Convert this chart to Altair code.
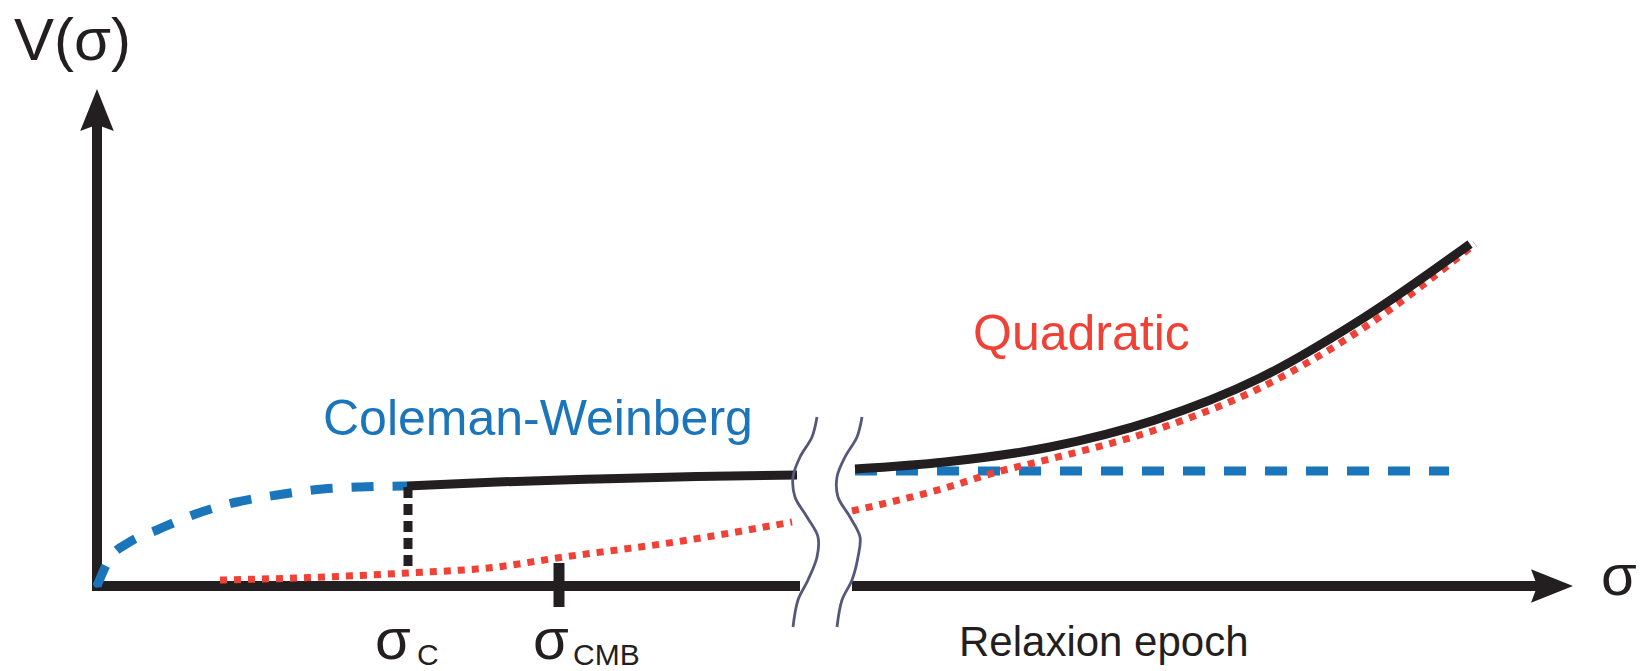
import altair as alt
import pandas as pd

# ---- data (x = sigma position, v = V(sigma)) ----
cw_left_x = [0, 13, 31, 60, 96, 140, 180, 226, 263, 310]
cw_left_v = [0, 28, 43, 56, 71, 84, 91, 97, 99, 100]

black_left_x = [310, 400, 500, 600, 700]
black_left_v = [100, 104, 107, 109.5, 111]

quad_left_x = [123, 200, 311, 400, 460, 585, 695]
quad_left_v = [6, 8, 13, 19, 28, 45, 64]

cw_right_x = [758, 1352]
cw_right_v = [115, 115]

black_right_x = [758, 848, 953, 1058, 1163, 1268, 1373]
black_right_v = [117, 124, 139, 166, 208, 269, 342]

quad_right_x = [755, 848, 900, 953, 1058, 1163, 1268, 1378]
quad_right_v = [75, 98, 114, 127, 156, 198, 259, 342]

sigma_c = 311
sigma_c_top = 99
sigma_c_bottom = 14
sigma_cmb = 462

break1_x = [720, 715, 703, 696, 698, 710, 721, 720, 711, 701, 696]
break2_x = [765, 760, 748, 740, 741, 753, 763, 761, 755, 745, 740]
break_v = [169, 149, 129, 109, 89, 69, 49, 29, 6, -14, -41]

BLUE = "#1b75bb"
RED = "#ef4136"
BLACK = "#231f20"
GREY = "#55587a"
FONT = "Liberation Sans"

xs = alt.Scale(domain=[-89, 1541], nice=False, zero=False)
ys = alt.Scale(domain=[-85, 578], nice=False, zero=False)


def enc(chart, xf="x", yf="v"):
    return chart.encode(
        x=alt.X(f"{xf}:Q", scale=xs, axis=None),
        y=alt.Y(f"{yf}:Q", scale=ys, axis=None),
    )


def line(xv, vv, color, width, dash=None, interp="monotone"):
    df = pd.DataFrame({"x": xv, "v": vv, "i": list(range(len(xv)))})
    kw = dict(color=color, strokeWidth=width, strokeCap="butt",
              interpolate=interp, clip=False)
    if dash:
        kw["strokeDash"] = dash
    return alt.Chart(df).mark_line(**kw).encode(
        x=alt.X("x:Q", scale=xs, axis=None),
        y=alt.Y("v:Q", scale=ys, axis=None),
        order="i:Q",
    )


# axes (broken x axis) and the sigma_CMB tick
axes_df = pd.DataFrame({
    "x": [0, -5, 755, sigma_cmb],
    "x2": [0, 703, 1445, sigma_cmb],
    "v": [-5, 0, 0, -21],
    "v2": [462, 0, 0, 23],
    "w": [10, 10, 10, 11],
})
axes = alt.Chart(axes_df).mark_rule(color=BLACK, strokeCap="butt").encode(
    x=alt.X("x:Q", scale=xs, axis=None), x2="x2:Q",
    y=alt.Y("v:Q", scale=ys, axis=None), y2="v2:Q",
    strokeWidth=alt.StrokeWidth("w:Q", scale=None),
)

arrow_df = pd.DataFrame({"x": [0, 1455], "v": [476, 0],
                         "s": ["up", "right"]})
arrow_up = enc(alt.Chart(arrow_df[arrow_df.s == "up"]).mark_point(
    shape="M0,-1L0.8,1L0,0.7L-0.8,1Z", size=1764, filled=True,
    color=BLACK, opacity=1, strokeWidth=0))
arrow_right = enc(alt.Chart(arrow_df[arrow_df.s == "right"]).mark_point(
    shape="M1,0L-1,0.8L-0.7,0L-1,-0.8Z", size=1764, filled=True,
    color=BLACK, opacity=1, strokeWidth=0))

origin = enc(alt.Chart(pd.DataFrame({"x": [0], "v": [2]})).mark_point(
    filled=True, size=55, color=BLUE, opacity=1))

cw_left = line(cw_left_x, cw_left_v, BLUE, 9, dash=[22, 19])
cw_right = line(cw_right_x, cw_right_v, BLUE, 9, dash=[22, 19], interp="linear")
quad_left = line(quad_left_x, quad_left_v, RED, 7, dash=[7, 7])
quad_right = line(quad_right_x, quad_right_v, RED, 7, dash=[7, 7])
black_left = line(black_left_x, black_left_v, BLACK, 9)
black_right = line(black_right_x, black_right_v, BLACK, 9)
sc_line = line([sigma_c, sigma_c], [sigma_c_top, sigma_c_bottom], BLACK, 9,
               dash=[11, 6], interp="linear")

brk1 = line(break1_x, break_v, GREY, 2.8, interp="catmull-rom")
brk2 = line(break2_x, break_v, GREY, 2.8, interp="catmull-rom")


def text(t, x, v, size, color):
    df = pd.DataFrame({"x": [x], "v": [v], "t": [t]})
    return enc(alt.Chart(df).mark_text(
        align="left", baseline="alphabetic", font=FONT, fontSize=size,
        color=color)).encode(text="t:N")


labels = [
    text("V(σ)", -83, 526, 60, BLACK),
    text("σ", 1504, -9, 58, BLACK),
    text("Coleman-Weinberg", 226, 151, 50, BLUE),
    text("Quadratic", 876, 236, 50, RED),
    text("Relaxion epoch", 862, -70, 42, BLACK),
    text("σ", 278, -73, 58, BLACK),
    text("C", 320, -79, 30, BLACK),
    text("σ", 436, -73, 58, BLACK),
    text("CMB", 476, -79, 30, BLACK),
]

chart = alt.layer(
    axes, arrow_up, arrow_right,
    cw_left, cw_right, origin,
    quad_left, quad_right,
    black_left, black_right, sc_line,
    brk1, brk2,
    *labels,
).properties(
    width=1630, height=663, padding=0, autosize=alt.AutoSizeParams(type="none"),
    background="white",
).configure_view(stroke=None)

chart.save("out.html", embed_options={"renderer": "svg", "actions": False})
